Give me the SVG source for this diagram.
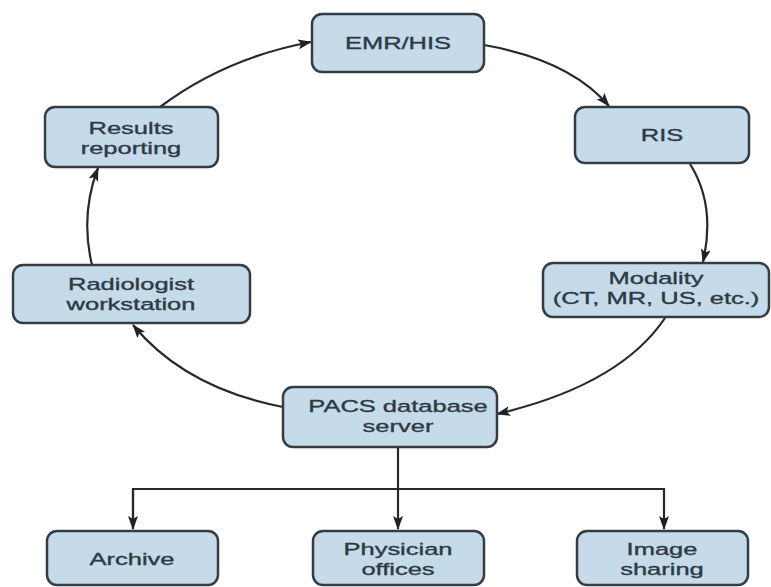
<svg xmlns="http://www.w3.org/2000/svg" width="771" height="587" viewBox="0 0 771 587">
  <defs>
    <marker id="arrow" viewBox="0 0 14 10" refX="13" refY="5" markerWidth="14" markerHeight="10" markerUnits="userSpaceOnUse" orient="auto">
      <path d="M0,0 L14,5 L0,10 L3,5 Z" fill="#1f2326"/>
    </marker>
  </defs>
  <style>
    .box { fill: #c6dbea; stroke: #353c42; stroke-width: 2.5; }
    .lbl { font-family: "Liberation Sans", Arial, sans-serif; font-size: 17px; fill: #2c3a44; stroke: #2c3a44; stroke-width: 0.35; text-anchor: middle; }
    .edge { fill: none; stroke: #26292c; stroke-width: 2.2; }
  </style>
  <rect width="771" height="587" fill="#ffffff"/>

  <!-- connectors -->
  <g id="connectors">
    <path class="edge" d="M160,107 Q225,58 311,42" marker-end="url(#arrow)"/>
    <path class="edge" d="M484,45 Q570,60 609,106" marker-end="url(#arrow)"/>
    <path class="edge" d="M690,164 Q716,205 703,262" marker-end="url(#arrow)"/>
    <path class="edge" d="M665,318 Q620,385 497,414" marker-end="url(#arrow)"/>
    <path class="edge" d="M283,407 Q185,388 133,325" marker-end="url(#arrow)"/>
    <path class="edge" d="M92,265 Q80,215 98,168" marker-end="url(#arrow)"/>
    <path class="edge" d="M398,448 V529" marker-end="url(#arrow)"/>
    <path class="edge" d="M133,529 V489 H664 V529" marker-end="url(#arrow)"/>
    <path class="edge" d="M133,489 V529" marker-end="url(#arrow)"/>
  </g>

  <g id="emr-his">
    <rect class="box" x="312" y="14" width="172" height="58" rx="10"/>
    <text class="lbl" transform="translate(398,49) scale(1.5,1)">EMR/HIS</text>
  </g>
  <g id="ris">
    <rect class="box" x="575" y="107" width="174" height="56" rx="10"/>
    <text class="lbl" transform="translate(662,141) scale(1.5,1)">RIS</text>
  </g>
  <g id="modality">
    <rect class="box" x="543" y="263" width="226" height="54" rx="10"/>
    <text class="lbl" transform="translate(656,284) scale(1.5,1)">Modality</text>
    <text class="lbl" transform="translate(656,304) scale(1.5,1)">(CT, MR, US, etc.)</text>
  </g>
  <g id="pacs">
    <rect class="box" x="283" y="387" width="214" height="60" rx="10"/>
    <text class="lbl" transform="translate(398,412) scale(1.5,1)">PACS database</text>
    <text class="lbl" transform="translate(398,432) scale(1.5,1)">server</text>
  </g>
  <g id="radiologist">
    <rect class="box" x="13" y="265" width="237" height="58" rx="10"/>
    <text class="lbl" transform="translate(131,290) scale(1.5,1)">Radiologist</text>
    <text class="lbl" transform="translate(131,310) scale(1.5,1)">workstation</text>
  </g>
  <g id="results">
    <rect class="box" x="45" y="107" width="173" height="60" rx="10"/>
    <text class="lbl" transform="translate(131,134) scale(1.5,1)">Results</text>
    <text class="lbl" transform="translate(131,154) scale(1.5,1)">reporting</text>
  </g>
  <g id="archive">
    <rect class="box" x="47" y="531" width="171" height="54" rx="10"/>
    <text class="lbl" transform="translate(132,565) scale(1.5,1)">Archive</text>
  </g>
  <g id="physician">
    <rect class="box" x="313" y="531" width="171" height="54" rx="10"/>
    <text class="lbl" transform="translate(398,555) scale(1.5,1)">Physician</text>
    <text class="lbl" transform="translate(398,575) scale(1.5,1)">offices</text>
  </g>
  <g id="image-sharing">
    <rect class="box" x="577" y="531" width="171" height="54" rx="10"/>
    <text class="lbl" transform="translate(662,555) scale(1.5,1)">Image</text>
    <text class="lbl" transform="translate(662,575) scale(1.5,1)">sharing</text>
  </g>
</svg>
